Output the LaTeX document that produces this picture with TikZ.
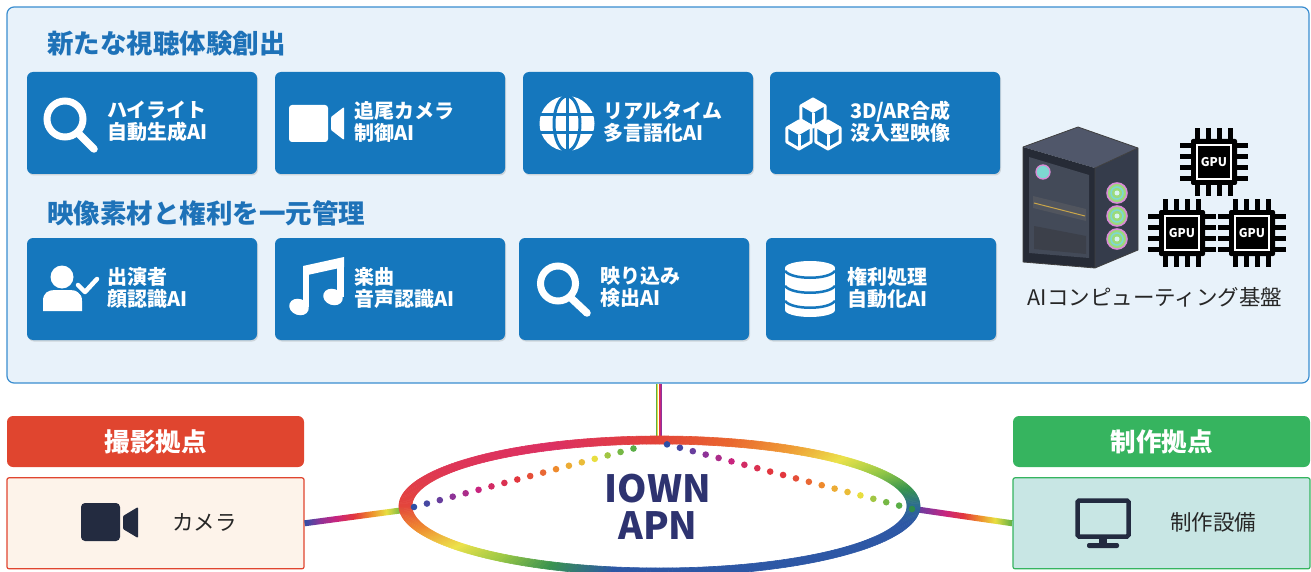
\documentclass[tikz,border=0pt]{standalone}
\usepackage{fontspec}
\setmainfont{Noto Sans CJK JP}
\usepackage{tikz}
\usetikzlibrary{calc}
\usetikzlibrary{positioning,shadows}

\definecolor{panelfill}{HTML}{E8F2FA}
\definecolor{panelline}{HTML}{3A8DD0}
\definecolor{boxblue}{HTML}{1577BD}
\definecolor{hdblue}{HTML}{1E72B8}
\definecolor{camred}{HTML}{E0452F}
\definecolor{camfill}{HTML}{FDF3EA}
\definecolor{prodgreen}{HTML}{36B45F}
\definecolor{prodfill}{HTML}{C8E6E4}
\definecolor{icondark}{HTML}{232B40}
\definecolor{apnnavy}{HTML}{2E3370}
% spectrum for links and dots
\definecolor{spB}{HTML}{2E4FA6}
\definecolor{spI}{HTML}{5A40A0}
\definecolor{spP}{HTML}{8E3397}
\definecolor{spM}{HTML}{C8247E}
\definecolor{spR}{HTML}{E2363E}
\definecolor{spO}{HTML}{EE8A2D}
\definecolor{spY}{HTML}{E8DE40}
\definecolor{spG}{HTML}{5AAE46}
\definecolor{spDG}{HTML}{2E8B4A}
% ring colours, clockwise from the east point
\definecolor{r0}{HTML}{2C6A95}
\definecolor{r1}{HTML}{2D57A5}
\definecolor{r2}{HTML}{3A9350}
\definecolor{r3}{HTML}{9CC845}
\definecolor{r4}{HTML}{ECE24A}
\definecolor{r5}{HTML}{EF8A30}
\definecolor{r6}{HTML}{E3453C}
\definecolor{r7}{HTML}{DE3556}
\definecolor{r8}{HTML}{DC3062}
\definecolor{r9}{HTML}{E2423A}
\definecolor{r10}{HTML}{E9652F}
\definecolor{r11}{HTML}{EF9A35}
\definecolor{r12}{HTML}{EBE24A}
\definecolor{r13}{HTML}{92C746}
\definecolor{r14}{HTML}{37944F}
% pc case
\definecolor{towertop}{HTML}{50576A}
\definecolor{towerdark}{HTML}{262B36}
\definecolor{towerside}{HTML}{353C4B}
\definecolor{towerglass}{HTML}{434A58}
\definecolor{fancyan}{HTML}{7ED8D2}
\definecolor{fangreen}{HTML}{9BDB7A}
\definecolor{fanpink}{HTML}{D98BD6}
\definecolor{gold}{HTML}{C9A54A}

\pgfdeclarehorizontalshading{linkL}{100bp}{color(0bp)=(spB); color(25bp)=(spB);
  color(33bp)=(spP); color(41bp)=(spM); color(50bp)=(spR); color(58bp)=(spO);
  color(66bp)=(spY); color(75bp)=(spG); color(100bp)=(spG)}
\pgfdeclarehorizontalshading{linkR}{100bp}{color(0bp)=(spI); color(25bp)=(spI);
  color(33bp)=(spP); color(41bp)=(spM); color(50bp)=(spR); color(58bp)=(spO);
  color(66bp)=(spY); color(75bp)=(spG); color(100bp)=(spG)}

\tikzset{
  panel/.style={draw=panelline, line width=1.2pt, fill=panelfill, rounded corners=7pt,
    minimum width=1302pt, minimum height=376pt, inner sep=0pt},
  heading/.style={anchor=west, inner sep=0pt, text=hdblue,
    font=\bfseries\fontsize{26.5}{30}\selectfont},
  aibox/.style={fill=boxblue, rounded corners=6pt, minimum width=230pt,
    minimum height=102pt, inner sep=0pt,
    drop shadow={opacity=0.25, shadow xshift=1pt, shadow yshift=-1.5pt}},
  aitext/.style={anchor=west, inner sep=0pt, text=white, align=left,
    font=\bfseries\fontsize{20}{22}\selectfont},
  sitehead/.style={rounded corners=6pt, minimum width=297pt, minimum height=51pt,
    inner sep=0pt, text=white, font=\bfseries\fontsize{25.5}{28}\selectfont},
  sitebox/.style={line width=1.2pt, rounded corners=2pt, minimum width=297pt,
    minimum height=91pt, inner sep=0pt},
  sitelabel/.style={anchor=west, inner sep=0pt, text=black!85,
    font=\fontsize{21.5}{24}\selectfont},
  gputext/.style={inner sep=0pt, text=white, font=\bfseries\fontsize{12}{13}\selectfont},
  apn/.style={align=center, text=apnnavy, font=\bfseries\fontsize{37.5}{37}\selectfont}
}

\newcommand{\isocube}[2]{%
  \filldraw[fill=boxblue, draw=white, line width=3pt, line join=round]
    (#1,{#2-14}) -- ({#1+12.1},{#2-7}) -- ({#1+12.1},{#2+7}) -- (#1,{#2+14})
    -- ({#1-12.1},{#2+7}) -- ({#1-12.1},{#2-7}) -- cycle;
  \fill[white] (#1,{#2-14}) -- ({#1+12.1},{#2-7}) -- (#1,#2) -- ({#1-12.1},{#2-7}) -- cycle;
  \draw[white, line width=3pt] (#1,#2) -- (#1,{#2+14});
}
\newcommand{\gpuchip}[2]{%
  \foreach \k in {-16.5,-5.5,5.5,16.5} {
    \fill[black] ({#1+\k-2.8},{#2-34}) rectangle ({#1+\k+2.8},{#2+34});
    \fill[black] ({#1-34},{#2+\k-2.8}) rectangle ({#1+34},{#2+\k+2.8});
  }
  \fill[black, rounded corners=2pt] ({#1-23},{#2-23}) rectangle ({#1+23},{#2+23});
  \draw[white, line width=2pt] ({#1-17},{#2-17}) rectangle ({#1+17},{#2+17});
  \node[gputext] (gpu#1) at (#1,#2) {GPU};
}

\begin{document}
\begin{tikzpicture}[x=1pt, y=-1pt]
  \useasboundingbox (0,0) rectangle (1311,572);

  \node[panel] (panel) at (658,195) {};
  \node[heading] (hdA) at (47,43) {新たな視聴体験創出};
  \node[heading] (hdB) at (47,213) {映像素材と権利を一元管理};

  \node[aibox] (b1) at (142,123) {};
  \node[aibox] (b2) at (390,123) {};
  \node[aibox] (b3) at (638,123) {};
  \node[aibox] (b4) at (885,123) {};
  \node[aibox] (b5) at (142,289) {};
  \node[aibox] (b6) at (390,289) {};
  \node[aibox] (b7) at (634,289) {};
  \node[aibox] (b8) at (881,289) {};

  \node[aitext] (t1) at ([xshift=80pt,yshift=1.5pt]b1.west) {ハイライト\\自動生成AI};
  \node[aitext] (t2) at ([xshift=79pt,yshift=1.5pt]b2.west) {追尾カメラ\\制御AI};
  \node[aitext] (t3) at ([xshift=80pt,yshift=1.5pt]b3.west) {リアルタイム\\多言語化AI};
  \node[aitext] (t4) at ([xshift=80pt,yshift=1.5pt]b4.west) {3D/AR合成\\没入型映像};
  \node[aitext] (t5) at ([xshift=80pt,yshift=1.5pt]b5.west) {出演者\\顔認識AI};
  \node[aitext] (t6) at ([xshift=79pt,yshift=1.5pt]b6.west) {楽曲\\音声認識AI};
  \node[aitext] (t7) at ([xshift=81pt,yshift=1.5pt]b7.west) {映り込み\\検出AI};
  \node[aitext] (t8) at ([xshift=81pt,yshift=1.5pt]b8.west) {権利処理\\自動化AI};

  % magnifier
  \draw[white, line width=7pt] (65,119) circle (18pt);
  \draw[white, line width=7.5pt, line cap=round] (79,134) -- (94,149);
  % video camera
  \fill[white, rounded corners=3pt] (289,105) rectangle (328,142);
  \fill[white, rounded corners=1pt] (331,117) -- (344,107) -- (344,140) -- (331,130) -- cycle;
  % globe
  \fill[white] (567,123.5) circle (27.5pt);
  \draw[boxblue, line width=3pt] (539,114.5) -- (595,114.5) (539,132.5) -- (595,132.5)
    (567,95) -- (567,152);
  \draw[boxblue, line width=3pt] (567,123.5) ellipse (13pt and 27.5pt);
  % cubes
  \isocube{813}{113}
  \isocube{799}{135}
  \isocube{828}{135}
  % person with check
  \fill[white] (62,277) circle (11.5pt);
  \fill[white] (43,311) -- (43,301) .. controls (43,293) and (48,290) .. (55,290)
    -- (70,290) .. controls (77,290) and (82,293) .. (82,301) -- (82,311) -- cycle;
  \draw[boxblue, line width=10pt, line cap=round, line join=round] (78,285) -- (85,292) -- (97,279);
  \draw[white, line width=4.5pt, line cap=round, line join=round] (78,285) -- (85,292) -- (97,279);
  % music note
  \fill[white, rotate around={-20:(299,307)}] (299,307) ellipse (10pt and 8pt);
  \fill[white, rotate around={-20:(333,297)}] (333,297) ellipse (10pt and 8pt);
  \fill[white] (303,307) rectangle (309,268);
  \fill[white] (337,297) rectangle (344,260);
  \fill[white] (303,266) -- (344,257) -- (344,267) -- (303,276) -- cycle;
  % magnifier
  \draw[white, line width=7pt] (558,283.5) circle (17.5pt);
  \draw[white, line width=7.5pt, line cap=round] (571,298) -- (587,313);
  % database
  \fill[white] (785,268) rectangle (835,310);
  \fill[white] (810,268) ellipse (25pt and 7pt);
  \fill[white] (810,310) ellipse (25pt and 7pt);
  \draw[boxblue, line width=2.5pt] (785,271) .. controls (792,280) and (828,280) .. (835,271);
  \draw[boxblue, line width=2.5pt] (785,286) .. controls (792,295) and (828,295) .. (835,286);
  \draw[boxblue, line width=2.5pt] (785,301) .. controls (792,310) and (828,310) .. (835,301);

  % pc case
  \fill[towertop] (1023,147) -- (1078,127) -- (1138,148) -- (1095,168) -- cycle;
  \fill[towerdark] (1023,147) -- (1095,168) -- (1095,268) -- (1023,262) -- cycle;
  \fill[towerside] (1095,168) -- (1138,148) -- (1138,250) -- (1095,268) -- cycle;
  \draw[black!75, line width=.8pt, line join=round] (1023,147) -- (1078,127) -- (1138,148)
    -- (1138,250) -- (1095,268) -- (1023,262) -- cycle (1095,168) -- (1138,148) (1095,168) -- (1095,268);
  \fill[towerglass] (1029,157) -- (1089,175) -- (1089,258) -- (1029,253) -- cycle;
  \fill[towerdark!80] (1033,196) -- (1086,209) -- (1086,221) -- (1033,208) -- cycle;
  \draw[gold, line width=1pt] (1034,203) -- (1085,216);
  \fill[towerdark!90] (1034,226) -- (1086,236) -- (1086,254) -- (1034,249) -- cycle;
  \fill[fancyan] (1043,172) circle (7pt);
  \draw[fanpink, line width=1.3pt] (1043,172) circle (7pt);
  \foreach \y in {193,216,239} {
    \fill[fangreen] (1117,\y) circle (10pt);
    \draw[fanpink, line width=1.6pt] (1117,\y) circle (10pt);
    \draw[fancyan, line width=1.6pt] (1117,\y) circle (6pt);
    \fill[white!70!fancyan] (1117,\y) circle (2.5pt);
  }
  % gpus
  \gpuchip{1214}{162}
  \gpuchip{1182}{233}
  \gpuchip{1252}{233}
  \node[sitelabel, anchor=center] (infra) at (1155,297) {AIコンピューティング基盤};

  % sites
  \node[sitehead, fill=camred] (camHead) at (155.5,441.5) {撮影拠点};
  \node[sitebox, draw=camred, fill=camfill, below=10pt of camHead] (camBox) {};
  \node[sitehead, fill=prodgreen] (prodHead) at (1161.5,441.5) {制作拠点};
  \node[sitebox, draw=prodgreen, fill=prodfill, below=10pt of prodHead] (prodBox) {};
  \node[sitelabel] (camLbl) at (172,522) {カメラ};
  \node[sitelabel] (prodLbl) at (1170,522) {制作設備};
  \fill[icondark, rounded corners=4pt] (81,503) rectangle (120,541);
  \fill[icondark, rounded corners=1pt] (123,516) -- (138,507) -- (138,538) -- (123,529) -- cycle;
  \draw[icondark, line width=4.5pt, rounded corners=1.5pt] (1077.5,500.5) rectangle (1128.5,536.5);
  \fill[icondark] (1099,538) rectangle (1107,545);
  \fill[icondark, rounded corners=2pt] (1087,543) rectangle (1119,548);

  % links into the APN ring
  \coordinate (ringW) at (404,510);
  \coordinate (ringE) at (914,509);
  \coordinate (ringN) at (659,440);
  \coordinate (dotL) at (414,507);
  \coordinate (dotT) at (658,442);
  \coordinate (dotR) at (912,509);
  \shade[shading=linkL] ($(camBox.east)!3pt!90:(ringW)$) -- ($(ringW)!3pt!-90:(camBox.east)$)
    -- ($(ringW)!3pt!90:(camBox.east)$) -- ($(camBox.east)!3pt!-90:(ringW)$) -- cycle;
  \shade[shading=linkR] ($(ringE)!3pt!90:(prodBox.west)$) -- ($(prodBox.west)!3pt!-90:(ringE)$)
    -- ($(prodBox.west)!3pt!90:(ringE)$) -- ($(ringE)!3pt!-90:(prodBox.west)$) -- cycle;
  \foreach \c [count=\i from 0] in {spG, spY, white, spR, spM, spP}
    \draw[\c, line width=1.05pt] ([xshift={\i-2.5}]ringN |- panel.south) -- ([xshift={\i-2.5}]ringN);

  % the ring
  \begin{scope}[shift={(659.5,506)}]
    \foreach \a/\b/\ca/\cb in {0/15/r0/r1, 15/100/r1/r1, 100/115/r1/r2, 115/128/r2/r3,
        128/142/r3/r4, 142/160/r4/r5, 160/180/r5/r6, 180/215/r6/r7, 215/245/r7/r8,
        245/268/r8/r9, 268/285/r9/r10, 285/300/r10/r11, 300/315/r11/r12,
        315/330/r12/r13, 330/345/r13/r14, 345/360/r14/r0} {
      \pgfmathtruncatemacro\bm{\b-1}
      \foreach \s in {\a,...,\bm} {
        \pgfmathtruncatemacro\pc{100*(\s-\a)/(\b-\a)}
        \pgfmathtruncatemacro\e{\s+1}
        \filldraw[fill=\cb!\pc!\ca, draw=\cb!\pc!\ca, line width=.6pt, line join=round]
          (\s:260.5 and 70) -- (\e:260.5 and 70) -- (\e:247.5 and 62) -- (\s:247.5 and 62) -- cycle;
      }
    }
  \end{scope}

  % dotted paths inside the ring
  \foreach \c [count=\i from 0] in {spB, spB!75!spP, spB!40!spP, spP, spP!50!spM, spM,
      spM!60!spR, spR!70!spM, spR, spR!70!spO, spO!60!spR, spO, spO!60!spY, spY!60!spO,
      spY, spY!50!spG, spG!80!spY, spG}
    \fill[\c] ($(dotL)!{\i/18.9}!(dotT)$) circle (3.3pt);
  \foreach \c [count=\i from 0] in {spB, spB!75!spP, spB!40!spP, spP, spP!50!spM, spM,
      spM!60!spR, spR!70!spM, spR, spR, spR!70!spO, spO!60!spR, spO, spO!60!spY,
      spY!60!spO, spY, spY!50!spG, spG!80!spY, spG, spDG}
    \fill[\c] ($(dotT)!{(0.7+\i)/19.7}!(dotR)$) circle (3.3pt);

  \node[apn] (apn) at (658,507) {IOWN\\APN};
\end{tikzpicture}
\end{document}
